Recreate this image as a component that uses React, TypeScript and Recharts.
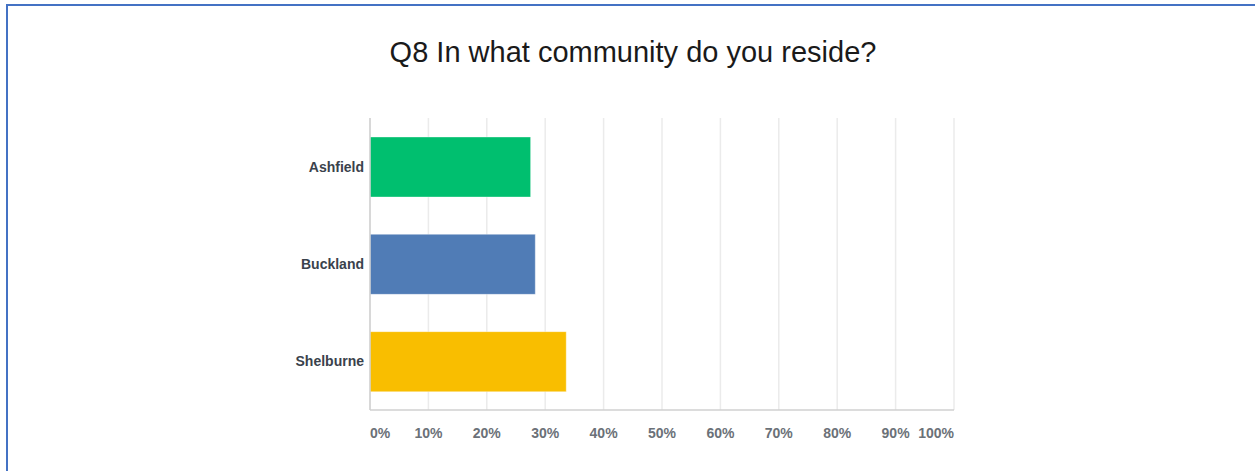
import React from "react";
import { BarChart, Bar, XAxis, YAxis, CartesianGrid, Cell } from "recharts";

const categories = ["Ashfield", "Buckland", "Shelburne"];
const percentages = [27.5, 28.3, 33.6];
const barColors = ["#00bf6f", "#507cb6", "#f9be00"];
const tickValues = [0, 10, 20, 30, 40, 50, 60, 70, 80, 90, 100];
const title = "Q8 In what community do you reside?";

const data = categories.map((name, i) => ({ name, value: percentages[i] }));

const XTick = (props: any) => {
  const { x, y, payload } = props;
  const v = payload.value;
  const anchor = v === 0 ? "start" : v === 100 ? "end" : "middle";
  return (
    <text
      x={x}
      y={y}
      dy={14}
      textAnchor={anchor}
      fill="#6b7178"
      fontSize={14}
      fontWeight={700}
      fontFamily="'Liberation Sans', Arial, sans-serif"
    >
      {v}%
    </text>
  );
};

const YTick = (props: any) => {
  const { x, y, payload } = props;
  return (
    <text
      x={x}
      y={y}
      dx={6}
      dy={5}
      textAnchor="end"
      fill="#3a424c"
      fontSize={14}
      fontWeight={700}
      fontFamily="'Liberation Sans', Arial, sans-serif"
    >
      {payload.value}
    </text>
  );
};

export default function App() {
  return (
    <div
      style={{
        position: "absolute",
        left: 0,
        top: 0,
        width: 1255,
        height: 471,
        background: "#fff",
        overflow: "hidden",
      }}
    >
      <div
        style={{
          position: "absolute",
          left: 0,
          top: 36,
          width: 1266,
          textAlign: "center",
          fontFamily: "'Liberation Sans', Arial, sans-serif",
          fontSize: 29,
          color: "#1a1a1a",
        }}
      >
        {title}
      </div>
      <div style={{ position: "absolute", left: 0, top: 0 }}>
        <BarChart
          width={1255}
          height={471}
          data={data}
          layout="vertical"
          margin={{ top: 118, right: 301, bottom: 31, left: 270 }}
          barSize={60}
        >
          <CartesianGrid horizontal={false} stroke="#ebebeb" strokeWidth={1.5} />
          <XAxis
            type="number"
            domain={[0, 100]}
            ticks={tickValues}
            interval={0}
            tickLine={false}
            axisLine={{ stroke: "#d0d0d0", strokeWidth: 1.5 }}
            height={30}
            tick={<XTick />}
            tickMargin={8}
          />
          <YAxis
            type="category"
            dataKey="name"
            width={100}
            tickLine={false}
            axisLine={{ stroke: "#d0d0d0", strokeWidth: 1.5 }}
            tick={<YTick />}
            tickMargin={6}
          />
          <Bar dataKey="value" isAnimationActive={false} stroke="rgba(255,255,255,0.35)" strokeWidth={1}>
            {data.map((d, i) => (
              <Cell key={d.name} fill={barColors[i]} />
            ))}
          </Bar>
        </BarChart>
      </div>
      <div
        style={{
          position: "absolute",
          left: 6,
          top: 4,
          width: 1249,
          height: 2,
          background: "#4472c4",
          zIndex: 5,
        }}
      />
      <div
        style={{
          position: "absolute",
          left: 6,
          top: 4,
          width: 2,
          height: 467,
          background: "#4472c4",
          zIndex: 5,
        }}
      />
    </div>
  );
}
